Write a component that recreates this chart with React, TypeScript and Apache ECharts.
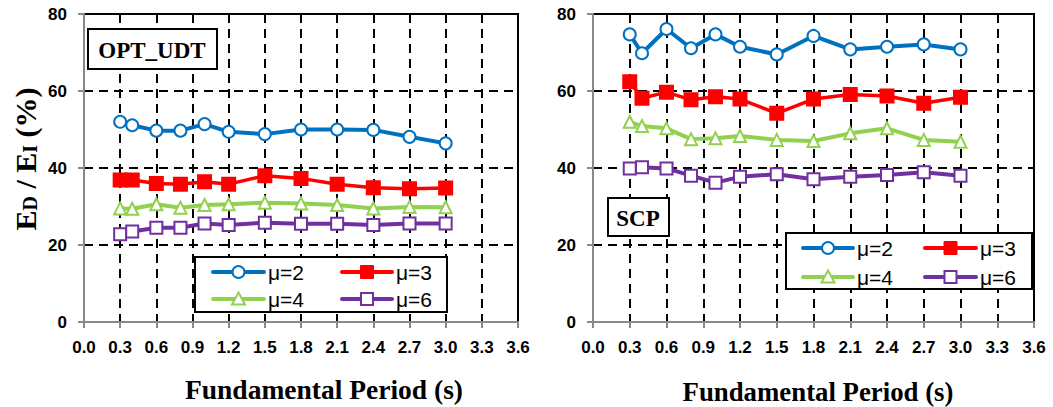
import React, { useEffect, useRef } from "react";
import * as echarts from "echarts";

const periods = [0.3, 0.4, 0.6, 0.8, 1.0, 1.2, 1.5, 1.8, 2.1, 2.4, 2.7, 3.0];
const seriesNames = ["μ=2", "μ=3", "μ=4", "μ=6"];

const optMu2 = [52.0, 51.1, 49.7, 49.7, 51.4, 49.4, 48.8, 50.0, 50.0, 49.9, 48.1, 46.4];
const optMu3 = [36.9, 36.9, 36.0, 35.8, 36.4, 35.8, 38.0, 37.3, 35.8, 34.9, 34.6, 34.8];
const optMu4 = [29.5, 29.4, 30.6, 29.7, 30.4, 30.6, 31.0, 30.8, 30.4, 29.5, 29.9, 29.8];
const optMu6 = [22.8, 23.5, 24.5, 24.5, 25.6, 25.2, 25.8, 25.5, 25.5, 25.2, 25.6, 25.6];

const scpMu2 = [74.7, 69.8, 76.1, 71.1, 74.7, 71.5, 69.5, 74.3, 70.8, 71.5, 72.1, 70.8];
const scpMu3 = [62.4, 58.1, 59.7, 57.7, 58.5, 57.9, 54.2, 57.9, 59.1, 58.7, 56.8, 58.4];
const scpMu4 = [52.0, 50.9, 50.3, 47.5, 47.7, 48.3, 47.3, 47.0, 49.0, 50.3, 47.3, 46.8];
const scpMu6 = [39.9, 40.2, 39.9, 38.0, 36.2, 37.7, 38.4, 37.1, 37.7, 38.2, 38.9, 38.0];

const xTickInterval = 0.3;
const yTickInterval = 20;

const colors = ["#0070C0", "#FF0000", "#92D050", "#7030A0"];

function pairs(vals: number[]) {
  return periods.map((p, i) => [p, vals[i]]);
}

const styles = [
  { symbol: "circle", size: 12, width: 4, fill: "#fff" },
  { symbol: "rect", size: 13, width: 3.5, fill: colors[1] },
  { symbol: "triangle", size: 12, width: 4, fill: "#fff" },
  { symbol: "rect", size: 12, width: 4, fill: "#fff" },
];

function makeSeries(vals: number[][], gridIdx: number) {
  return vals.map((v, k) => ({
    name: seriesNames[k],
    type: "line",
    xAxisIndex: gridIdx,
    yAxisIndex: gridIdx,
    data: pairs(v),
    symbol: styles[k].symbol,
    symbolSize: styles[k].size,
    showAllSymbol: true,
    lineStyle: { color: colors[k], width: styles[k].width },
    itemStyle: { color: styles[k].fill, borderColor: colors[k], borderWidth: 2 },
    z: 5,
  }));
}

const tickFont = { fontFamily: "Liberation Sans, Arial", fontWeight: "bold" as const, fontSize: 17, color: "#000" };
const gridDash = { color: "#000", type: [9, 6], width: 2 };

function xAxisCfg(gridIndex: number) {
  return {
    type: "value",
    gridIndex,
    min: 0,
    max: 3.6,
    interval: xTickInterval,
    axisLine: { show: true, lineStyle: { color: "#898989", width: 2 } },
    axisTick: { show: true, length: 6, lineStyle: { color: "#898989", width: 2 } },
    axisLabel: { ...tickFont, margin: 17, formatter: (v: number) => v.toFixed(1) },
    splitLine: { show: true, showMinLine: false, showMaxLine: false, lineStyle: gridDash },
  };
}

function yAxisCfg(gridIndex: number) {
  return {
    type: "value",
    gridIndex,
    min: 0,
    max: 80,
    interval: yTickInterval,
    axisLine: { show: true, lineStyle: { color: "#898989", width: 2 } },
    axisTick: { show: true, length: 6, lineStyle: { color: "#898989", width: 2 } },
    axisLabel: { ...tickFont, margin: 17 },
    splitLine: { show: true, showMinLine: true, showMaxLine: false, lineStyle: gridDash },
  };
}

// legend item drawn as graphic: line + marker + text
function legendItem(k: number, x: number, y: number, lineLen: number) {
  const cx = x + lineLen / 2;
  const c = colors[k];
  let marker: any;
  if (k === 0) {
    marker = { type: "circle", z: 7, shape: { cx, cy: y, r: 6 }, style: { fill: "#fff", stroke: c, lineWidth: 2 } };
  } else if (k === 1) {
    marker = { type: "rect", z: 7, shape: { x: cx - 6.5, y: y - 6.5, width: 13, height: 13 }, style: { fill: c, stroke: c, lineWidth: 1 } };
  } else if (k === 2) {
    marker = {
      type: "polygon", z: 7,
      shape: { points: [[cx, y - 6.5], [cx + 6.5, y + 5.5], [cx - 6.5, y + 5.5]] },
      style: { fill: "#fff", stroke: c, lineWidth: 2 },
    };
  } else {
    marker = { type: "rect", z: 7, shape: { x: cx - 6, y: y - 6, width: 12, height: 12 }, style: { fill: "#fff", stroke: c, lineWidth: 2 } };
  }
  return [
    { type: "line", z: 6, shape: { x1: x, y1: y, x2: x + lineLen, y2: y }, style: { stroke: c, lineWidth: 4, lineCap: "round" } },
    marker,
    {
      type: "text", z: 7, x: x + lineLen + 4, y,
      style: { text: seriesNames[k], fontFamily: "Liberation Sans, Arial", fontSize: 21, fill: "#000", align: "left", verticalAlign: "middle" },
    },
  ];
}

const serif = "Liberation Serif, Times New Roman";

export default function App() {
  const ref = useRef<HTMLDivElement>(null);
  useEffect(() => {
    if (!ref.current) return;
    const chart = echarts.init(ref.current, null, { renderer: "svg" });
    const option = {
      animation: false,
      backgroundColor: "#fff",
      grid: [
        { left: 84, top: 14, width: 434, height: 308, show: true, borderColor: "#000", borderWidth: 2, backgroundColor: "transparent" },
        { left: 593, top: 14, width: 441, height: 308, show: true, borderColor: "#000", borderWidth: 2, backgroundColor: "transparent" },
      ],
      xAxis: [xAxisCfg(0), xAxisCfg(1)],
      yAxis: [yAxisCfg(0), yAxisCfg(1)],
      series: [
        ...makeSeries([optMu2, optMu3, optMu4, optMu6], 0),
        ...makeSeries([scpMu2, scpMu3, scpMu4, scpMu6], 1),
      ],
      graphic: [
        { type: "rect", z: 4, shape: { x: 195, y: 257, width: 252, height: 55 }, style: { fill: "#fff", stroke: "#000", lineWidth: 2 } },
        ...legendItem(0, 213, 272, 51),
        ...legendItem(1, 342, 272, 50),
        ...legendItem(2, 213, 299, 51),
        ...legendItem(3, 342, 299, 50),
        { type: "rect", z: 4, shape: { x: 786, y: 233, width: 246, height: 56 }, style: { fill: "#fff", stroke: "#000", lineWidth: 2 } },
        ...legendItem(0, 803, 248, 50),
        ...legendItem(1, 925, 248, 51),
        ...legendItem(2, 803, 277, 50),
        ...legendItem(3, 925, 277, 51),
        { type: "rect", z: 4, shape: { x: 88, y: 29, width: 129, height: 40 }, style: { fill: "#fff", stroke: "#000", lineWidth: 2 } },
        {
          type: "text", z: 5, x: 152, y: 50,
          style: { text: "OPT_UDT", fontFamily: serif, fontWeight: "bold", fontSize: 23, fill: "#000", align: "center", verticalAlign: "middle" },
        },
        { type: "rect", z: 4, shape: { x: 608, y: 198, width: 61, height: 38 }, style: { fill: "#fff", stroke: "#000", lineWidth: 2 } },
        {
          type: "text", z: 5, x: 638, y: 218,
          style: { text: "SCP", fontFamily: serif, fontWeight: "bold", fontSize: 23, fill: "#000", align: "center", verticalAlign: "middle" },
        },
        {
          type: "text", z: 5, x: 324, y: 389,
          style: { text: "Fundamental Period (s)", fontFamily: serif, fontWeight: "bold", fontSize: 27.5, fill: "#000", align: "center", verticalAlign: "middle" },
        },
        {
          type: "text", z: 5, x: 818, y: 392,
          style: { text: "Fundamental Period (s)", fontFamily: serif, fontWeight: "bold", fontSize: 26.8, fill: "#000", align: "center", verticalAlign: "middle" },
        },
        {
          type: "text", z: 5, x: 23, y: 159, rotation: Math.PI / 2,
          style: {
            text: "{m|E}{s|D}{m| / E}{s|I}{m| (%)}",
            align: "center",
            verticalAlign: "middle",
            fill: "#000",
            rich: {
              m: { fontFamily: serif, fontWeight: "bold", fontSize: 30, lineHeight: 34, verticalAlign: "bottom" },
              s: { fontFamily: serif, fontWeight: "bold", fontSize: 20, lineHeight: 19, verticalAlign: "bottom" },
            },
          },
        },
      ],
    };
    chart.setOption(option as any);
    return () => chart.dispose();
  }, []);
  return <div ref={ref} style={{ position: "absolute", left: 0, top: 0, width: 1053, height: 407 }} />;
}
